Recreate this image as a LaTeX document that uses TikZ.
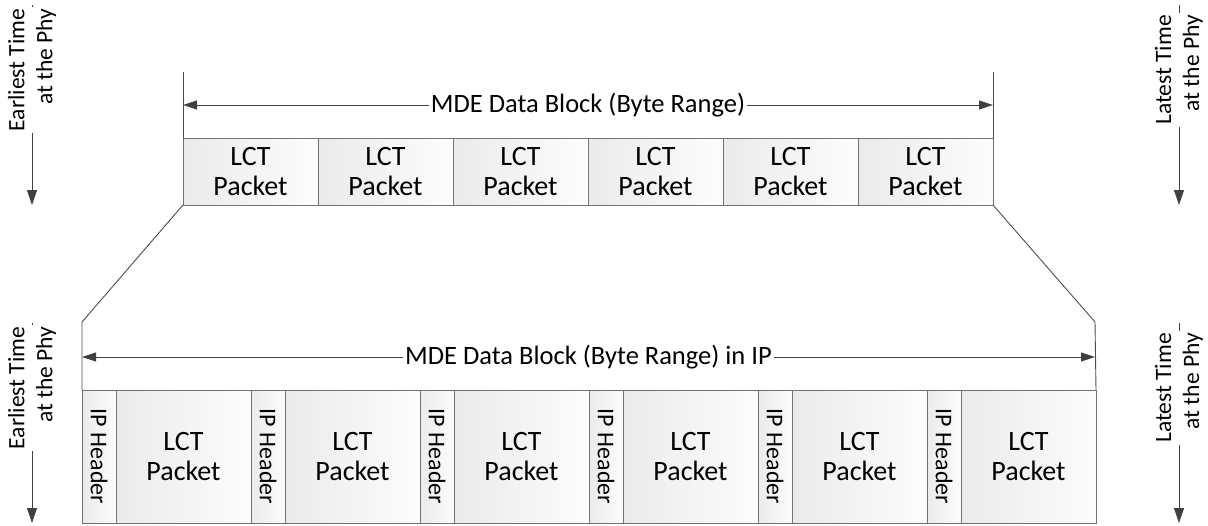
\documentclass[tikz,border=0pt]{standalone}
\usepackage{fontspec}
\setmainfont{Carlito}
\usetikzlibrary{arrows.meta,positioning}

\begin{document}
\begin{tikzpicture}[x=1pt,y=-1pt]
	\tikzset{
		pktbox/.style={draw=black!55, line width=1pt, left color=black!8, right color=black!1,
			inner sep=0pt, outer sep=0pt, align=center, font=\fontsize{28}{30}\selectfont},
		hdrtext/.style={rotate=-90, inner sep=0pt, font=\fontsize{24}{28}\selectfont},
		blocklabel/.style={fill=white, inner xsep=2pt, inner ysep=1pt, font=\fontsize{26.5}{29}\selectfont},
		sidelabel/.style={fill=white, rotate=90, align=right, inner xsep=2pt, inner ysep=0pt,
			font=\fontsize{23.5}{28}\selectfont},
		rangearrow/.style={{Triangle[length=14pt,width=9pt]}-{Triangle[length=14pt,width=9pt]}, draw=black!75, line width=0.9pt},
		timearrow/.style={-{Triangle[length=15pt,width=10pt]}, draw=black!75, line width=0.9pt},
		guide/.style={draw=black!70, line width=0.9pt}
	}
	\useasboundingbox (0,0) rectangle (1208,525);
	\newcommand{\topPacket}[1]{
		% args:
		%     rank (ordered left to right)
		\node[pktbox, minimum width=135pt, minimum height=67pt] (top_#1) at (183+#1*135+67.5, 171.5) {LCT\\Packet};
	}
	\newcommand{\ipPacket}[1]{
		% args:
		%     rank (ordered left to right)
		% ip header followed by its lct packet
		\node[pktbox, minimum width=34pt, minimum height=133pt] (hdr_#1) at (82+#1*169+17, 456.5) {};
		\node[hdrtext] (hdrtxt_#1) at (hdr_#1) {IP Header};
		\node[pktbox, minimum width=135pt, minimum height=133pt] (lct_#1) at (82+#1*169+34+67.5, 456.5) {LCT\\Packet};
	}
	\newcommand{\timeLabel}[4]{
		% args:
		%     name
		%     x of the arrow
		%     y of the arrow start
		%     text
		\coordinate (#1_start) at (#2, #3);
		\coordinate (#1_end) at (#2, #3+200);
		\draw[timearrow] (#1_start) -- (#1_end);
		\node[sidelabel] (#1) at (#2, #3+65) {#4};
	}
	%
	% the mde data block
	\foreach \i in {0,...,5} {\topPacket{\i}}
	\coordinate (top_lt) at (183, 72);
	\coordinate (top_rt) at (993, 72);
	\coordinate (top_la) at (183, 105);
	\coordinate (top_ra) at (993, 105);
	\draw[guide] (top_lt) -- (top_0.north west);
	\draw[guide] (top_rt) -- (top_5.north east);
	\draw[rangearrow] (top_la) -- (top_ra) node[midway, blocklabel] (top_range) {MDE Data Block (Byte Range)};
	%
	% the same block in ip
	\foreach \i in {0,...,5} {\ipPacket{\i}}
	\coordinate (bot_lt) at (82, 322);
	\coordinate (bot_rt) at (1095, 322);
	\coordinate (bot_la) at (82, 357);
	\coordinate (bot_ra) at (1095, 357);
	\draw[guide] (top_0.south west) -- (bot_lt) -- (hdr_0.north west);
	\draw[guide] (top_5.south east) -- (bot_rt) -- (lct_5.north east);
	\draw[rangearrow] (bot_la) -- (bot_ra) node[midway, blocklabel] (bot_range) {MDE Data Block (Byte Range) in IP};
	%
	% time at the phy
	\timeLabel{early_top}{32}{5}{Earliest Time\\at the Phy}
	\timeLabel{late_top}{1179}{5}{Latest Time\\at the Phy}
	\timeLabel{early_bot}{32}{323}{Earliest Time\\at the Phy}
	\timeLabel{late_bot}{1179}{323}{Latest Time\\at the Phy}
\end{tikzpicture}
\end{document}
